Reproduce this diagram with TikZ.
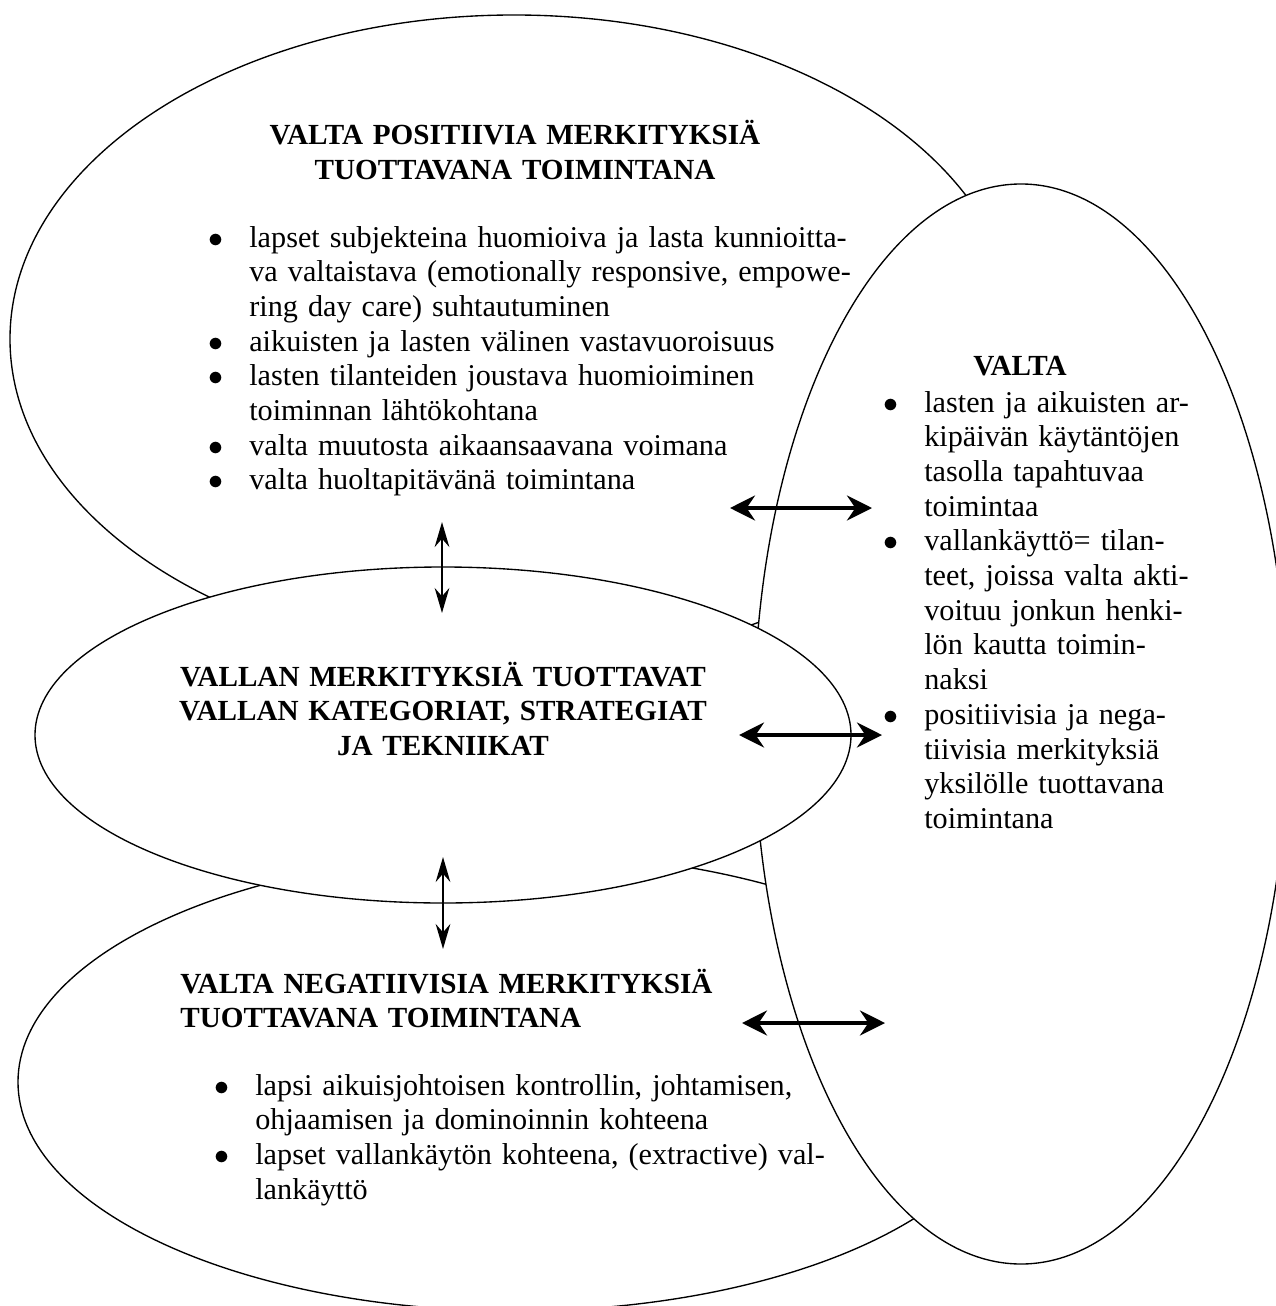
\documentclass[tikz,border=0pt]{standalone}
\usepackage{fontspec}
\setmainfont{Liberation Serif}
\usetikzlibrary{shapes.geometric, arrows.meta}

\newlength\bulind
\setlength\bulind{15.8pt}
\newcommand{\bul}{\hangindent=\bulind\hangafter=1\noindent\makebox[0pt]{$\bullet$}\hspace{\bulind}}

\begin{document}
\begin{tikzpicture}
    [x=0.48pt, y=-0.48pt,
    ovalnode/.style={ellipse, draw=black, fill=white, line width=0.65pt, inner sep=0pt},
    textnode/.style={inner sep=0pt, font=\fontsize{14.5pt}{16.66pt}\selectfont},
    titlenode/.style={inner sep=0pt, font=\fontsize{14pt}{16.66pt}\selectfont\bfseries},
    thinarrow/.style={<->, >={Stealth[length=12pt, width=7pt, inset=4pt]}, line width=1.2pt},
    thickarrow/.style={<->, >={Stealth[length=12pt, width=12pt, inset=4pt]}, line width=1.8pt},]

    \useasboundingbox (0,0) rectangle (1275,1306);

    %Ovals
    \node[ovalnode, minimum width=483.84pt, minimum height=311.04pt](P) at (514,339){};
    \node[ovalnode, minimum width=477.12pt, minimum height=219.84pt](N) at (515,1082){};
    \node[ovalnode, minimum width=256.32pt, minimum height=518.4pt](V) at (1021,724){};
    \node[ovalnode, minimum width=391.68pt, minimum height=161.28pt](M) at (443,735){};

    %Texts
    \node[titlenode, text width=300pt, align=center, anchor=base](p) at (515,145)
        {VALTA POSITIIVIA MERKITYKSIÄ\\TUOTTAVANA TOIMINTANA};
    \node[textnode, text width=340pt, anchor=base west](p1) at (216,247)
        {\bul lapset subjekteina huomioiva ja lasta kunnioitta-\newline va valtaistava (emotionally responsive, empowe-\newline ring day care) suhtautuminen\par
         \bul aikuisten ja lasten välinen vastavuoroisuus\par
         \bul lasten tilanteiden joustava huomioiminen\newline toiminnan lähtökohtana\par
         \bul valta muutosta aikaansaavana voimana\par
         \bul valta huoltapitävänä toimintana\par};

    \node[titlenode, text width=100pt, align=center, anchor=base](v) at (1020,375){VALTA};
    \node[textnode, text width=200pt, anchor=base west](v1) at (891,412)
        {\bul lasten ja aikuisten ar-\newline kipäivän käytäntöjen\newline tasolla tapahtuvaa\newline toimintaa\par
         \bul vallankäyttö= tilan-\newline teet, joissa valta akti-\newline voituu jonkun henki-\newline lön kautta toimin-\newline naksi\par
         \bul positiivisia ja nega-\newline tiivisia merkityksiä\newline yksilölle tuottavana\newline toimintana\par};

    \node[titlenode, text width=300pt, align=center, anchor=base](m) at (443,686)
        {VALLAN MERKITYKSIÄ TUOTTAVAT\\VALLAN KATEGORIAT, STRATEGIAT\\JA TEKNIIKAT};

    \node[titlenode, text width=300pt, align=left, anchor=base west](n) at (180,993)
        {VALTA NEGATIIVISIA MERKITYKSIÄ\\TUOTTAVANA TOIMINTANA};
    \node[textnode, text width=340pt, anchor=base west](n1) at (222,1095)
        {\bul lapsi aikuisjohtoisen kontrollin, johtamisen,\newline ohjaamisen ja dominoinnin kohteena\par
         \bul lapset vallankäytön kohteena, (extractive) val-\newline lankäyttö\par};

    %Arrow ends
    \coordinate (pm1) at (442,522);
    \coordinate (pm2) at (442,613);
    \coordinate (mn1) at (443,857);
    \coordinate (mn2) at (443,949);
    \coordinate (pv1) at (730,508);
    \coordinate (pv2) at (872,508);
    \coordinate (mv1) at (739,735);
    \coordinate (mv2) at (882,735);
    \coordinate (nv1) at (742,1023);
    \coordinate (nv2) at (885,1023);

    %Lines
    \draw[thinarrow](pm1)--(pm2);
    \draw[thinarrow](mn1)--(mn2);
    \draw[thickarrow](pv1)--(pv2);
    \draw[thickarrow](mv1)--(mv2);
    \draw[thickarrow](nv1)--(nv2);
\end{tikzpicture}
\end{document}
